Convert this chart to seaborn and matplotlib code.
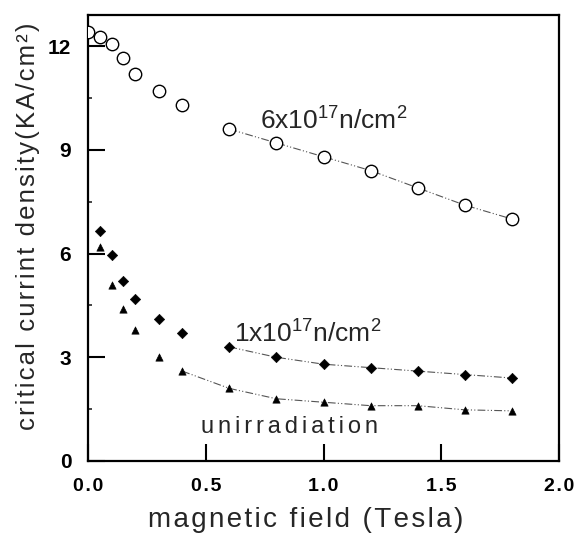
import numpy as np
import pandas as pd
import matplotlib
matplotlib.use("Agg")
import matplotlib.pyplot as plt
from matplotlib import font_manager
import seaborn as sns

# ---- data ----
field_6e17 = [0.0, 0.05, 0.1, 0.15, 0.2, 0.3, 0.4, 0.6, 0.8, 1.0, 1.2, 1.4, 1.6, 1.8]
jc_6e17 = [12.4, 12.25, 12.05, 11.65, 11.2, 10.7, 10.3, 9.6, 9.2, 8.8, 8.4, 7.9, 7.4, 7.0]
field_1e17 = [0.05, 0.1, 0.15, 0.2, 0.3, 0.4, 0.6, 0.8, 1.0, 1.2, 1.4, 1.6, 1.8]
jc_1e17 = [6.65, 5.95, 5.2, 4.7, 4.1, 3.7, 3.3, 3.0, 2.8, 2.7, 2.6, 2.5, 2.4]
field_unirr = [0.05, 0.1, 0.15, 0.2, 0.3, 0.4, 0.6, 0.8, 1.0, 1.2, 1.4, 1.6, 1.8]
jc_unirr = [6.2, 5.1, 4.4, 3.8, 3.0, 2.6, 2.1, 1.8, 1.7, 1.6, 1.6, 1.48, 1.45]
xticks = [0.0, 0.5, 1.0, 1.5, 2.0]
yticks = [0, 3, 6, 9, 12]
yminor = [1.5, 4.5, 7.5, 10.5]
label_6 = r"6x10$^{17}$n/cm$^{2}$"
label_1 = r"1x10$^{17}$n/cm$^{2}$"
label_0 = "unirradiation"
xlabel = "magnetic field (Tesla)"
ylabel = "critical currint density(KA/cm²)"

sns.set_theme(style="white")
names = {f.name for f in font_manager.fontManager.ttflist}
main = "Liberation Sans Narrow" if "Liberation Sans Narrow" in names else "Liberation Sans"
plt.rcParams["font.family"] = [main, "DejaVu Sans"]
plt.rcParams["mathtext.fontset"] = "custom"
plt.rcParams["mathtext.rm"] = main

def spaced(s, sep="\u200a"):
    return sep.join(list(s))

fig = plt.figure(figsize=(5.74, 5.33), dpi=100)
ax = fig.add_axes([88/574, 1-461/533, 471/574, 446/533])

d6 = pd.DataFrame({"x": field_6e17, "y": jc_6e17})
d1 = pd.DataFrame({"x": field_1e17, "y": jc_1e17})
d0 = pd.DataFrame({"x": field_unirr, "y": jc_unirr})

dash = (7, 2, 1, 2, 1, 2)
lkw = dict(color="#555555", linewidth=0.8, dashes=dash, legend=False, sort=False)
sns.lineplot(data=d6[d6.x >= 0.6], x="x", y="y", ax=ax, **lkw)
sns.lineplot(data=d1[d1.x >= 0.6], x="x", y="y", ax=ax, **lkw)
sns.lineplot(data=d0[d0.x >= 0.4], x="x", y="y", ax=ax, **lkw)

sns.scatterplot(data=d6, x="x", y="y", ax=ax, marker="o", s=80,
                facecolor="white", edgecolor="black", linewidth=1.0, zorder=5)
sns.scatterplot(data=d1, x="x", y="y", ax=ax, marker="D", s=28,
                color="black", edgecolor="black", zorder=5)
sns.scatterplot(data=d0, x="x", y="y", ax=ax, marker="^", s=28,
                color="black", edgecolor="black", zorder=5)

ax.set_xlim(0, 2.0)
ax.set_ylim(0, 12.9)
ax.set_xticks(xticks)
ax.set_xticklabels([spaced(f"{v:.1f}", "\u200a") for v in xticks], fontsize=14, fontweight="bold")
ax.set_yticks(yticks)
ax.set_yticklabels([str(v) for v in yticks], fontsize=15, fontweight="bold")
ax.set_yticks(yminor, minor=True)
ax.tick_params(axis="both", which="major", direction="in", length=12, width=1.5,
               colors="black", pad=12, bottom=True, left=True, top=False, right=False)
ax.tick_params(axis="y", which="minor", direction="in", length=3, width=1.2,
               left=True, right=False)
ax.tick_params(axis="x", which="minor", bottom=False, top=False)

for s in ax.spines.values():
    s.set_linewidth(1.6)
    s.set_color("black")

ax.set_xlabel(spaced(xlabel), fontsize=20)
ax.xaxis.set_label_coords(0.463, -0.148)
ax.xaxis.label.set_va("baseline")
ax.set_ylabel(spaced(ylabel), fontsize=18.5)
ax.yaxis.set_label_coords(-0.127, 0.527)
ax.yaxis.label.set_va("center")

ax.text(0.73, 9.6, label_6, fontsize=19, va="baseline", ha="left")
ax.text(0.62, 3.45, label_1, fontsize=19, va="baseline", ha="left")
ax.text(0.48, 0.81, spaced(label_0, "\u2006"), fontsize=17, va="baseline", ha="left")

fig.savefig("out.png", dpi=100)
